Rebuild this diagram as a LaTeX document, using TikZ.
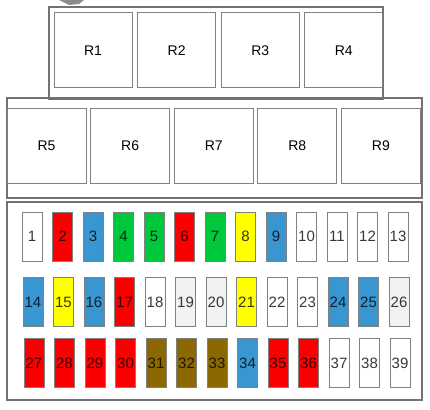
\documentclass[tikz,border=0pt]{standalone}
\usepackage{fontspec}
\setmainfont{Liberation Sans}
\usepackage{tikz}
\definecolor{fred}{RGB}{250,0,0}
\definecolor{fblue}{RGB}{58,150,208}
\definecolor{fgreen}{RGB}{0,200,60}
\definecolor{fyellow}{RGB}{255,255,0}
\definecolor{fbrown}{RGB}{140,105,0}
\definecolor{fgrey}{RGB}{242,242,242}
\definecolor{fwhite}{RGB}{255,255,255}
\tikzset{frame/.style={draw=black!55,line width=1.2pt}}
\tikzset{relay/.style={draw=black!50,line width=1pt,minimum width=78pt,
                       minimum height=75pt,inner sep=0pt,font=\fontsize{14}{14}\selectfont}}
\tikzset{fuse/.style={draw=black!50,line width=0.8pt,fill=#1,text=#1!22!black,
                      minimum width=20pt,minimum height=49pt,inner sep=0pt,
                      font=\fontsize{15}{15}\selectfont}}
\begin{document}
\begin{tikzpicture}[x=1pt,y=-1pt]
    \useasboundingbox (0,0) rectangle (430,409);
    % mark at the top edge
    \fill[black!45] (59,0) -- (84,0) -- (79,4) -- (69,5) -- cycle;
    % relay blocks
    \draw[frame] (49,7) rectangle (383,99);
    \draw[frame] (7,98) rectangle (422,198);
    \foreach \i in {1,...,4}{%
          \node[relay] (r\i) at (93+83.6*\i-83.6,50.5) {R\i};
        }
    \foreach \i [evaluate=\i as \n using int(\i+4)] in {1,...,5}{%
          \node[relay,minimum width=79pt] (r\n) at (46.5+83.6*\i-83.6,145.5) {R\n};
        }
    % fuse block
    \draw[frame] (7,202) rectangle (422,400);
    \foreach \c [count=\i] in {fwhite,fred,fblue,fgreen,fgreen,fred,fgreen,
                               fyellow,fblue,fwhite,fwhite,fwhite,fwhite}{%
          \node[fuse=\c] (f\i) at (32+30.5*\i-30.5,236.5) {\i};
        }
    \foreach \c [count=\i from 14] in {fblue,fyellow,fblue,fred,fwhite,fgrey,fgrey,
                                       fyellow,fwhite,fwhite,fblue,fblue,fgrey}{%
          \node[fuse=\c] (f\i) at (33+30.5*\i-427,302) {\i};
        }
    \foreach \c [count=\i from 27] in {fred,fred,fred,fred,fbrown,fbrown,fbrown,
                                       fblue,fred,fred,fwhite,fwhite,fwhite}{%
          \node[fuse=\c] (f\i) at (34+30.5*\i-823.5,363) {\i};
        }
\end{tikzpicture}
\end{document}
